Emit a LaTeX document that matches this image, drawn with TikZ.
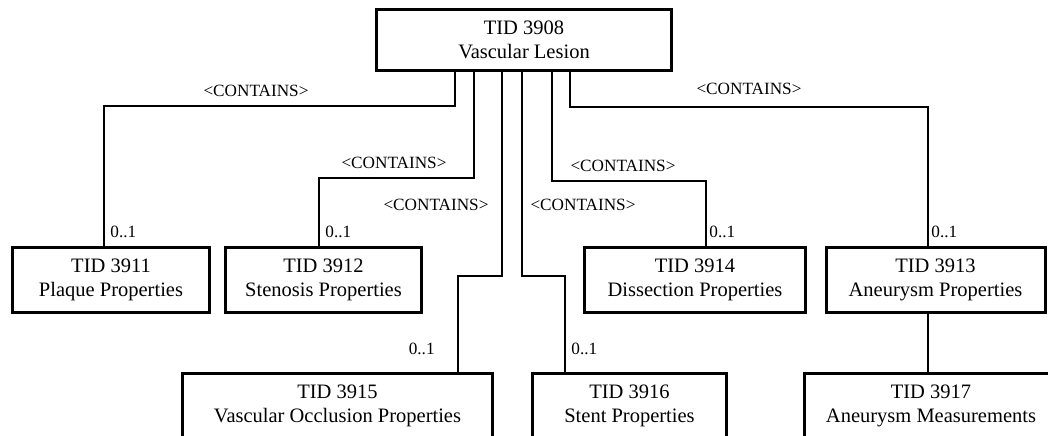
\documentclass[tikz,border=0pt]{standalone}
\usepackage{fontspec}
\setmainfont{Liberation Serif}
\usetikzlibrary{calc}

\begin{document}
\begin{tikzpicture}[x=0.5pt, y=-0.5pt,
    tidbox/.style={draw, line width=1.5pt, align=center, inner sep=0pt,
      font=\fontsize{10.25}{12}\selectfont},
    link/.style={line width=0.55pt},
    rel/.style={inner sep=0pt, font=\fontsize{8.6}{10}\selectfont},
    card/.style={inner sep=0pt, font=\fontsize{8.6}{10}\selectfont}]
  \clip (0,0) rectangle (1048,435);
  % boxes
  \node[tidbox, minimum width=147.5pt, minimum height=30.5pt] (lesion) at (524,40) {TID 3908\\Vascular Lesion};
  \node[tidbox, minimum width=98.5pt, minimum height=32.5pt] (plaque) at (111,280) {TID 3911\\Plaque Properties};
  \node[tidbox, minimum width=98pt, minimum height=32.5pt] (stenosis) at (323.5,280) {TID 3912\\Stenosis Properties};
  \node[tidbox, minimum width=110.5pt, minimum height=32.5pt] (dissection) at (695,280) {TID 3914\\Dissection Properties};
  \node[tidbox, minimum width=109.5pt, minimum height=32.5pt] (aneurysm) at (935.5,280) {TID 3913\\Aneurysm Properties};
  \node[tidbox, minimum width=155pt, minimum height=32.5pt] (occlusion) at (337.5,405.5) {TID 3915\\Vascular Occlusion Properties};
  \node[tidbox, minimum width=97pt, minimum height=32.5pt] (stent) at (629.5,405.5) {TID 3916\\Stent Properties};
  \node[tidbox, minimum width=126.5pt, minimum height=32.5pt] (measure) at (931,405.5) {TID 3917\\Aneurysm Measurements};
  % connectors
  \draw[link] ($(lesion.south)+(-69,0)$) -- ++(0,34) -| ($(plaque.north)+(-7,0)$);
  \draw[link] ($(lesion.south)+(-50,0)$) -- ++(0,106) -| ($(stenosis.north)+(-4.5,0)$);
  \draw[link] ($(lesion.south)+(-22,0)$) -- ++(0,204) -| ($(occlusion.north)+(120.5,0)$);
  \draw[link] ($(lesion.south)+(-2,0)$) -- ++(0,204) -| ($(stent.north)+(-64.5,0)$);
  \draw[link] ($(lesion.south)+(28,0)$) -- ++(0,109) -| ($(dissection.north)+(11,0)$);
  \draw[link] ($(lesion.south)+(46,0)$) -- ++(0,35) -| ($(aneurysm.north)+(-7.5,0)$);
  \draw[link] ($(aneurysm.south)+(-7.5,0)$) -- ($(measure.north)+(-3,0)$);
  % relationship labels
  \node[rel] (cPlaque) at (256,91) {<CONTAINS>};
  \node[rel] (cStenosis) at (394,163) {<CONTAINS>};
  \node[rel] (cOcclusion) at (436,205) {<CONTAINS>};
  \node[rel] (cStent) at (583,205) {<CONTAINS>};
  \node[rel] (cDissection) at (623,166) {<CONTAINS>};
  \node[rel] (cAneurysm) at (749,89) {<CONTAINS>};
  % cardinalities
  \node[card, anchor=west] (mPlaque) at (110,232) {0..1};
  \node[card, anchor=west] (mStenosis) at (325,232) {0..1};
  \node[card, anchor=east] (mOcclusion) at (435,349) {0..1};
  \node[card, anchor=west] (mStent) at (571,349) {0..1};
  \node[card, anchor=west] (mDissection) at (709,232) {0..1};
  \node[card, anchor=west] (mAneurysm) at (931,232) {0..1};
\end{tikzpicture}
\end{document}
